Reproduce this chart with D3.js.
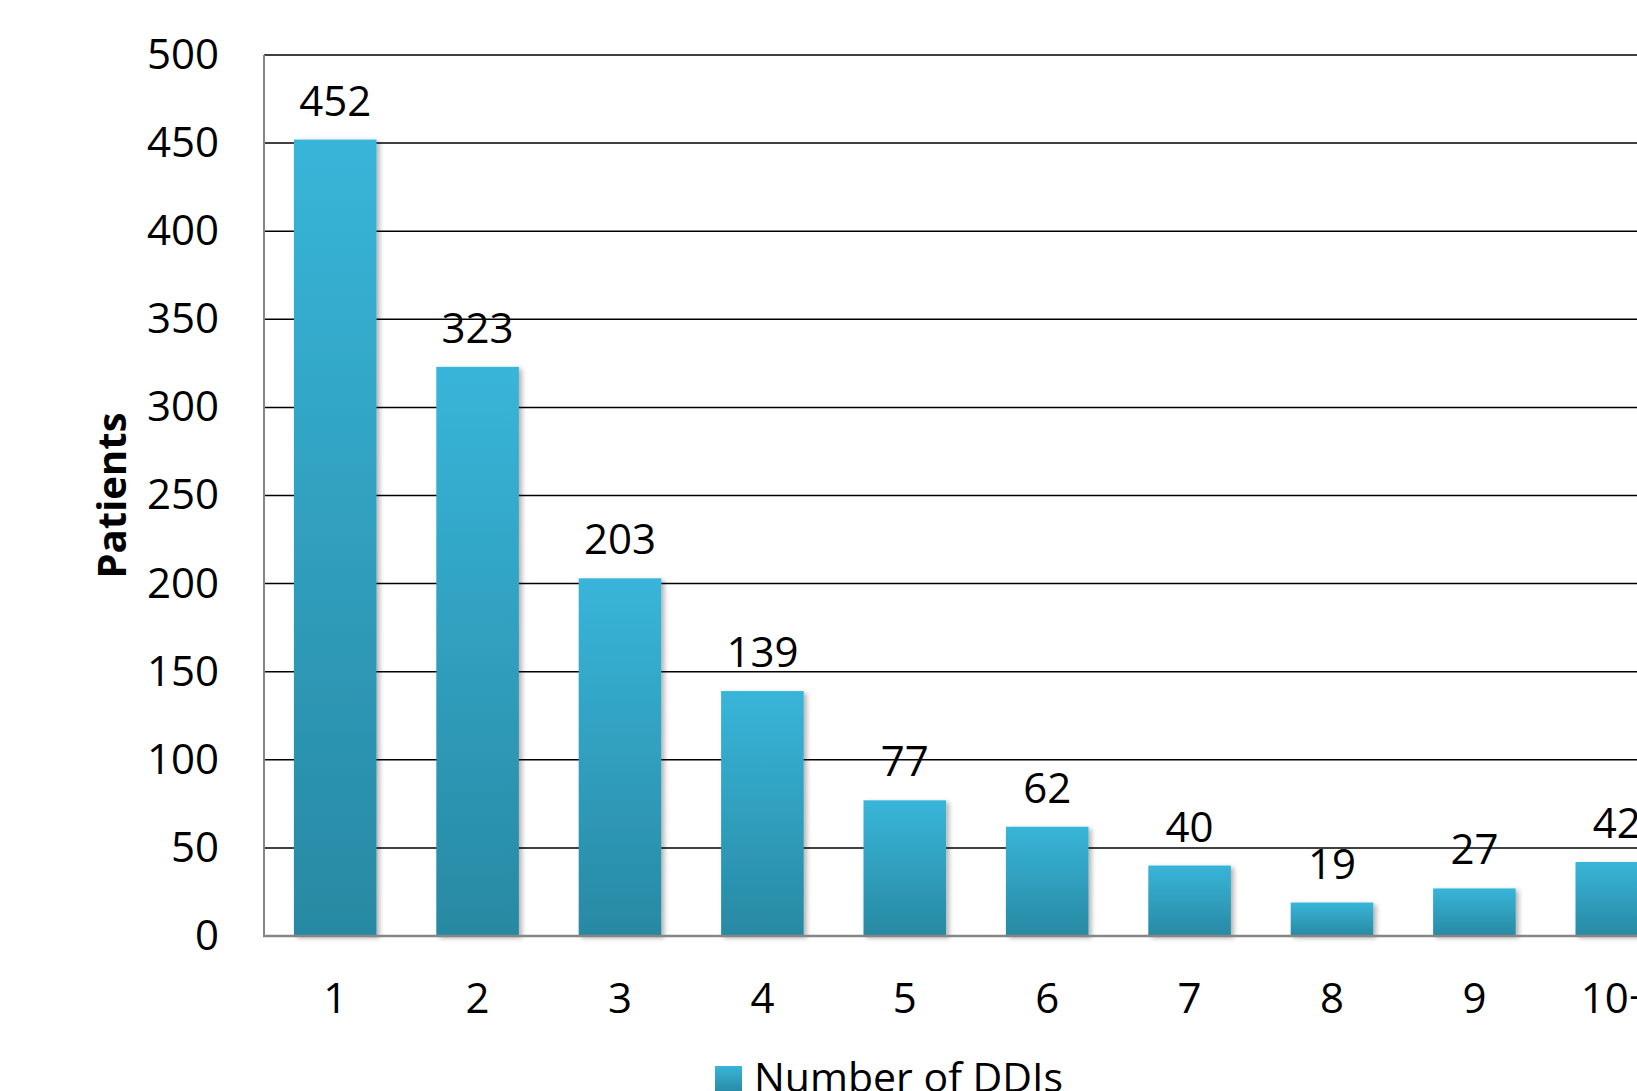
<!DOCTYPE html>
<html>
<head>
<meta charset="utf-8">
<script src="https://cdn.jsdelivr.net/npm/d3@7"></script>
<style>
  body { margin: 0; background: #fff; overflow: hidden; }
  svg { display: block; }
</style>
</head>
<body>
<script>
// data
var categories = ["1", "2", "3", "4", "5", "6", "7", "8", "9", "10+"] ;
var patients = [452, 323, 203, 139, 77, 62, 40, 19, 27, 42] ;
var yTicks = [0, 50, 100, 150, 200, 250, 300, 350, 400, 450, 500] ;
var seriesName = "Number of DDIs" ;
var axisTitle = "Patients" ;

var width = 1637, height = 1091 ;
var font = "'Open Sans', 'Noto Sans', sans-serif" ;

//plot area (runs past the right edge, like the cropped original)
//NB: don't call it "top", window.top is read-only
var plotLeft = 264, plotTop = 55, plotBottom = 936 ;
var step = 142.4 ;
var plotRight = plotLeft + categories.length*step ;

var svg = d3.select("body").append("svg")
    .attr("width", width)
    .attr("height", height) ;

var defs = svg.append("defs") ;

var grad = defs.append("linearGradient")
    .attr("id", "barGrad")
    .attr("x1", 0).attr("y1", 0)
    .attr("x2", 0).attr("y2", 1) ;
grad.append("stop").attr("offset", "0%").attr("stop-color", "#38b5d9") ;
grad.append("stop").attr("offset", "100%").attr("stop-color", "#2889a3") ;

defs.append("filter")
    .attr("id", "shadow")
    .attr("x", "-10%").attr("y", "-10%")
    .attr("width", "130%").attr("height", "130%")
    .append("feDropShadow")
    .attr("dx", 3)
    .attr("dy", 2)
    .attr("stdDeviation", 2.5)
    .attr("flood-color", "#000")
    .attr("flood-opacity", 0.3) ;

var x = d3.scaleBand()
    .domain(categories)
    .range([plotLeft, plotRight])
    .paddingInner(0.42)
    .paddingOuter(0.21) ;

var y = d3.scaleLinear()
    .domain([0, 500])
    .range([plotBottom, plotTop]) ;

//gridlines
svg.append("g")
    .selectAll("line")
    .data(yTicks.filter(function(d) { return d > 0 ; }))
    .enter().append("line")
    .attr("x1", plotLeft)
    .attr("x2", plotRight)
    .attr("y1", function(d) { return y(d) ; })
    .attr("y2", function(d) { return y(d) ; })
    .attr("stroke", "#000")
    .attr("stroke-width", 1.5) ;

//bars
svg.append("g")
    .selectAll("rect")
    .data(patients)
    .enter().append("rect")
    .attr("x", function(d, i) { return x(categories[i]) ; })
    .attr("y", function(d) { return y(d) ; })
    .attr("width", x.bandwidth())
    .attr("height", function(d) { return y(0) - y(d) ; })
    .attr("fill", "url(#barGrad)")
    .attr("filter", "url(#shadow)") ;

//value labels
svg.append("g")
    .selectAll("text")
    .data(patients)
    .enter().append("text")
    .attr("x", function(d, i) { return x(categories[i]) + x.bandwidth()/2 ; })
    .attr("y", function(d) { return y(d) - 24 ; })
    .attr("font-family", font)
    .attr("font-size", "42px")
    .attr("text-anchor", "middle")
    .attr("fill", "#000")
    .text(function(d) { return d ; }) ;

//axis lines
svg.append("line")
    .attr("x1", plotLeft).attr("x2", plotLeft)
    .attr("y1", plotTop).attr("y2", plotBottom)
    .attr("stroke", "#868686")
    .attr("stroke-width", 2) ;

svg.append("line")
    .attr("x1", plotLeft - 1).attr("x2", plotRight)
    .attr("y1", plotBottom).attr("y2", plotBottom)
    .attr("stroke", "#868686")
    .attr("stroke-width", 2.5) ;

//y axis labels
var yAxis = svg.append("g")
    .attr("transform", "translate(" + plotLeft + ",0)")
    .call(d3.axisLeft(y).tickValues(yTicks).tickSize(0).tickPadding(45)) ;
yAxis.select(".domain").remove() ;
yAxis.selectAll("text")
    .attr("font-family", font)
    .attr("font-size", "42px")
    .attr("fill", "#000") ;

//x axis labels
var xAxis = svg.append("g")
    .attr("transform", "translate(0," + plotBottom + ")")
    .call(d3.axisBottom(x).tickSize(0).tickPadding(47)) ;
xAxis.select(".domain").remove() ;
xAxis.selectAll("text")
    .attr("font-family", font)
    .attr("font-size", "42px")
    .attr("fill", "#000") ;

//axis title
svg.append("text")
    .attr("transform", "translate(126," + (plotTop + plotBottom)/2 + ") rotate(-90)")
    .attr("font-family", font)
    .attr("font-weight", "bold")
    .attr("font-size", "40px")
    .attr("text-anchor", "middle")
    .attr("fill", "#000")
    .text(axisTitle) ;

//legend (cut by the bottom edge in the original)
svg.append("rect")
    .attr("x", 715)
    .attr("y", 1066)
    .attr("width", 27)
    .attr("height", 27)
    .attr("fill", "url(#barGrad)") ;

svg.append("text")
    .attr("x", 754)
    .attr("y", 1092)
    .attr("font-family", font)
    .attr("font-size", "41px")
    .attr("fill", "#000")
    .text(seriesName) ;
</script>
</body>
</html>
